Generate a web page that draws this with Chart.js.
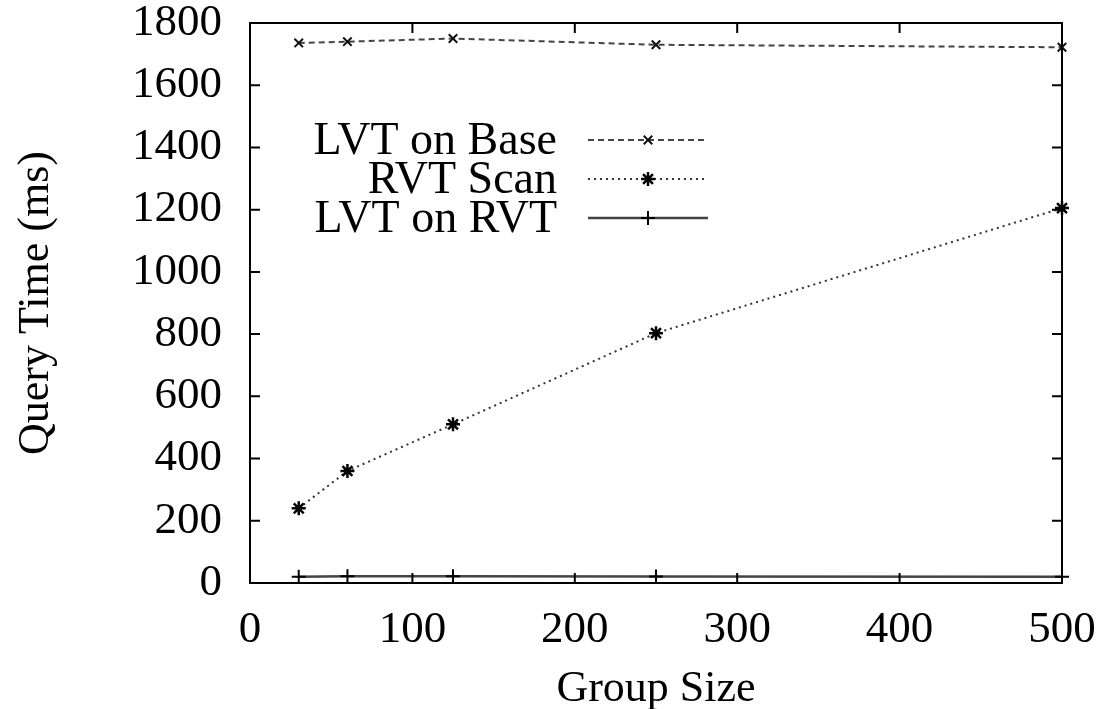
<!DOCTYPE html>
<html lang="en">
<head>
    <meta charset="UTF-8">
    <title>Query Time vs Group Size</title>
    <script src="https://cdn.jsdelivr.net/npm/chart.js"></script>
    <style>
        html, body { margin: 0; padding: 0; background: #fff; }
        .chart-box { width: 1104px; height: 709px; }
    </style>
</head>
<body>
<div class="chart-box">
    <canvas id="canvas"></canvas>
</div>

<script>
    // values
    const groupSizes = [30, 60, 125, 250, 500];
    const lvtOnBase = [1736, 1740, 1750, 1730, 1722];
    const rvtScan = [240, 360, 510, 803, 1205];
    const lvtOnRvt = [20, 22, 22, 21, 20];
    const seriesNames = ['LVT on Base', 'RVT Scan', 'LVT on RVT'];
    const xTicks = [0, 100, 200, 300, 400, 500];
    const yTicks = [0, 200, 400, 600, 800, 1000, 1200, 1400, 1600, 1800];

    const serif = '"Liberation Serif", "DejaVu Serif", serif';

    const toPoints = values => values.map((v, i) => ({ x: groupSizes[i], y: v }));

    // box border with inward ticks and the inside legend (gnuplot style)
    const framePlugin = {
        id: 'frame',
        afterDraw(chart) {
            const { ctx, chartArea: a, scales } = chart;
            ctx.save();
            ctx.strokeStyle = '#000';
            ctx.lineWidth = 2;
            ctx.strokeRect(a.left, a.top, a.right - a.left, a.bottom - a.top);

            const len = 10;
            ctx.beginPath();
            xTicks.forEach(v => {
                const px = scales.x.getPixelForValue(v);
                ctx.moveTo(px, a.bottom); ctx.lineTo(px, a.bottom - len);
                ctx.moveTo(px, a.top); ctx.lineTo(px, a.top + len);
            });
            yTicks.forEach(v => {
                const py = scales.y.getPixelForValue(v);
                ctx.moveTo(a.left, py); ctx.lineTo(a.left + len, py);
                ctx.moveTo(a.right, py); ctx.lineTo(a.right - len, py);
            });
            ctx.stroke();

            // legend
            const textRight = a.left + 307;
            const lineStart = a.left + 338;
            const lineEnd = a.left + 458;
            ctx.font = '46px ' + serif;
            ctx.textAlign = 'right';
            ctx.textBaseline = 'middle';
            chart.data.datasets.forEach((ds, i) => {
                const y = a.top + 117 + i * 39;
                ctx.fillStyle = '#000';
                ctx.fillText(ds.label, textRight, y + 2);
                ctx.strokeStyle = ds.borderColor;
                ctx.lineWidth = ds.borderWidth;
                ctx.setLineDash(ds.borderDash || []);
                ctx.beginPath();
                ctx.moveTo(lineStart, y); ctx.lineTo(lineEnd, y);
                ctx.stroke();
                ctx.setLineDash([]);
                if (Chart.helpers && Chart.helpers.drawPoint) {
                    ctx.strokeStyle = ds.pointBorderColor;
                    ctx.fillStyle = ds.pointBackgroundColor;
                    ctx.lineWidth = ds.pointBorderWidth;
                    Chart.helpers.drawPoint(ctx, {
                        pointStyle: ds.pointStyle,
                        radius: ds.pointRadius,
                        borderWidth: ds.pointBorderWidth,
                        rotation: 0
                    }, (lineStart + lineEnd) / 2, y);
                }
            });
            ctx.restore();
        }
    };

    const ctx = document.getElementById('canvas').getContext('2d');
    new Chart(ctx, {
        type: 'line',
        data: {
            datasets: [
                {
                    label: seriesNames[0],
                    data: toPoints(lvtOnBase),
                    borderColor: '#444',
                    borderWidth: 2,
                    borderDash: [6, 4],
                    pointStyle: 'crossRot',
                    pointRadius: 6,
                    pointBorderWidth: 2,
                    pointBorderColor: '#111',
                    pointBackgroundColor: '#111',
                    clip: 12
                },
                {
                    label: seriesNames[1],
                    data: toPoints(rvtScan),
                    borderColor: '#333',
                    borderWidth: 2,
                    borderDash: [2, 4],
                    pointStyle: 'star',
                    pointRadius: 7,
                    pointBorderWidth: 2.5,
                    pointBorderColor: '#000',
                    pointBackgroundColor: '#000',
                    clip: 12
                },
                {
                    label: seriesNames[2],
                    data: toPoints(lvtOnRvt),
                    borderColor: '#444',
                    borderWidth: 2.5,
                    pointStyle: 'cross',
                    pointRadius: 7,
                    pointBorderWidth: 2,
                    pointBorderColor: '#000',
                    pointBackgroundColor: '#000',
                    clip: 12
                }
            ]
        },
        options: {
            responsive: true,
            maintainAspectRatio: false,
            animation: false,
            layout: { padding: { top: 23, right: 42, left: 0, bottom: 0 } },
            plugins: {
                legend: { display: false },
                tooltip: { enabled: false }
            },
            scales: {
                x: {
                    type: 'linear',
                    min: 0,
                    max: 500,
                    afterFit: scale => {
                        scale.height = 126;
                        scale.paddingLeft = 0;
                        scale.paddingRight = 0;
                    },
                    afterBuildTicks: scale => { scale.ticks = xTicks.map(v => ({ value: v })); },
                    grid: { display: false, drawTicks: false },
                    border: { display: false },
                    ticks: {
                        color: '#000',
                        padding: 20,
                        maxRotation: 0,
                        callback: v => String(v),
                        font: { family: serif, size: 45 }
                    },
                    title: {
                        display: true,
                        text: 'Group Size',
                        color: '#000',
                        font: { family: serif, size: 44, lineHeight: 0.9 },
                        padding: { top: 0, bottom: 0 }
                    }
                },
                y: {
                    min: 0,
                    max: 1800,
                    afterFit: scale => {
                        scale.width = 250;
                        scale.paddingTop = 0;
                        scale.paddingBottom = 0;
                    },
                    afterBuildTicks: scale => { scale.ticks = yTicks.map(v => ({ value: v })); },
                    grid: { display: false, drawTicks: false },
                    border: { display: false },
                    ticks: {
                        color: '#000',
                        padding: 28,
                        callback: v => String(v),
                        font: { family: serif, size: 45 }
                    },
                    title: {
                        display: true,
                        text: 'Query Time (ms)',
                        color: '#000',
                        font: { family: serif, size: 44, lineHeight: 1.2 },
                        padding: { top: 10, bottom: 0 }
                    }
                }
            }
        },
        plugins: [framePlugin]
    });
</script>
</body>
</html>
